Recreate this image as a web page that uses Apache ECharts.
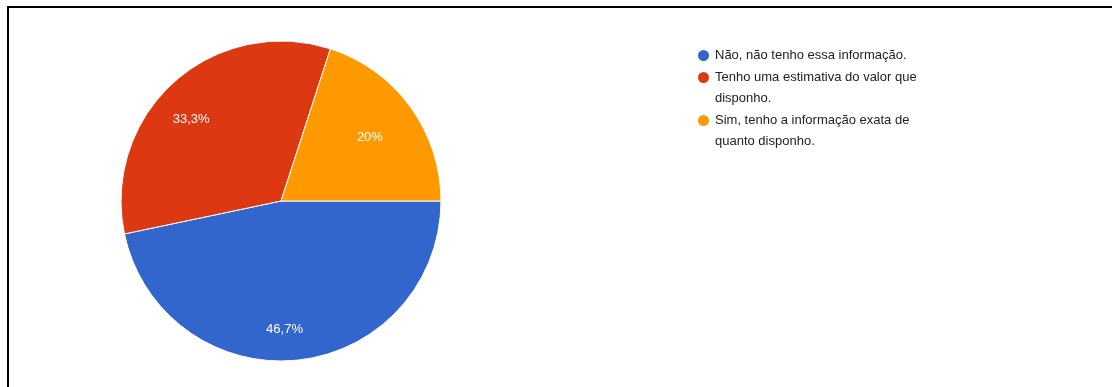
<!DOCTYPE html>
<html>
<head>
<meta charset="utf-8">
<script src="https://cdn.jsdelivr.net/npm/echarts@6/dist/echarts.min.js"></script>
<style>
  html, body { margin: 0; padding: 0; background: #ffffff; }
  #chart { width: 1117px; height: 387px; }
</style>
</head>
<body>
<div id="chart"></div>
<script>
// Survey answers and their shares (percent)
const categories = [
  'Não, não tenho essa informação.',
  'Tenho uma estimativa do valor que disponho.',
  'Sim, tenho a informação exata de quanto disponho.'
];
const shares = [46.7, 33.3, 20];
const colors = ['#3366cc', '#dc3912', '#ff9900'];

const LINE_H = 21;
const WRAP_CHARS = 33;

// Greedy word wrap for legend entries
function wrap(text) {
  const words = text.split(' ');
  const lines = [];
  let cur = '';
  words.forEach(w => {
    const next = cur ? cur + ' ' + w : w;
    if (next.length > WRAP_CHARS && cur) { lines.push(cur); cur = w; }
    else cur = next;
  });
  if (cur) lines.push(cur);
  return lines;
}

// Legend text is centred on its marker, so blank lines are prepended
// to keep the marker level with the first line of a wrapped entry.
function legendText(name) {
  const lines = wrap(name);
  const pad = new Array(lines.length - 1).fill(' ');
  return pad.concat(lines).join('\n');
}

function pct(v) {
  return (Math.round(v * 10) / 10).toString().replace('.', ',') + '%';
}

const pieData = categories.map((name, i) => ({
  name: name,
  value: shares[i],
  itemStyle: { color: colors[i] }
}));

const R = 160;

const chart = echarts.init(document.getElementById('chart'), null, { renderer: 'canvas' });
chart.setOption({
  animation: false,
  backgroundColor: '#ffffff',
  legend: {
    orient: 'vertical',
    left: 691,
    top: 40,
    icon: 'circle',
    itemWidth: 13,
    itemHeight: 13,
    itemGap: -20,
    selectedMode: false,
    formatter: legendText,
    textStyle: {
      fontFamily: 'Arial, "Liberation Sans", sans-serif',
      fontSize: 13,
      color: '#222222',
      lineHeight: LINE_H
    },
    data: categories
  },
  graphic: [
    { type: 'line', shape: { x1: 7, y1: 7, x2: 1112, y2: 7 }, style: { stroke: '#000', lineWidth: 2 }, silent: true },
    { type: 'line', shape: { x1: 8, y1: 6, x2: 8, y2: 387 }, style: { stroke: '#000', lineWidth: 2 }, silent: true }
  ],
  series: [
    {
      // visible pie slices
      type: 'pie',
      center: [281, 201],
      radius: [0, R],
      startAngle: 0,
      clockwise: true,
      label: { show: false },
      labelLine: { show: false },
      itemStyle: { borderColor: '#ffffff', borderWidth: 1 },
      emphasis: { disabled: true },
      data: pieData
    },
    {
      // transparent ring carrying the percentage labels
      type: 'pie',
      center: [272, 209],
      radius: [76, R],
      startAngle: 0,
      clockwise: true,
      silent: true,
      itemStyle: { color: 'rgba(0,0,0,0)' },
      emphasis: { disabled: true },
      label: {
        show: true,
        position: 'inside',
        color: '#ffffff',
        fontFamily: 'Arial, "Liberation Sans", sans-serif',
        fontSize: 13,
        formatter: p => pct(p.value)
      },
      labelLine: { show: false },
      data: categories.map((name, i) => ({ name: name, value: shares[i] }))
    }
  ]
});
</script>
</body>
</html>
